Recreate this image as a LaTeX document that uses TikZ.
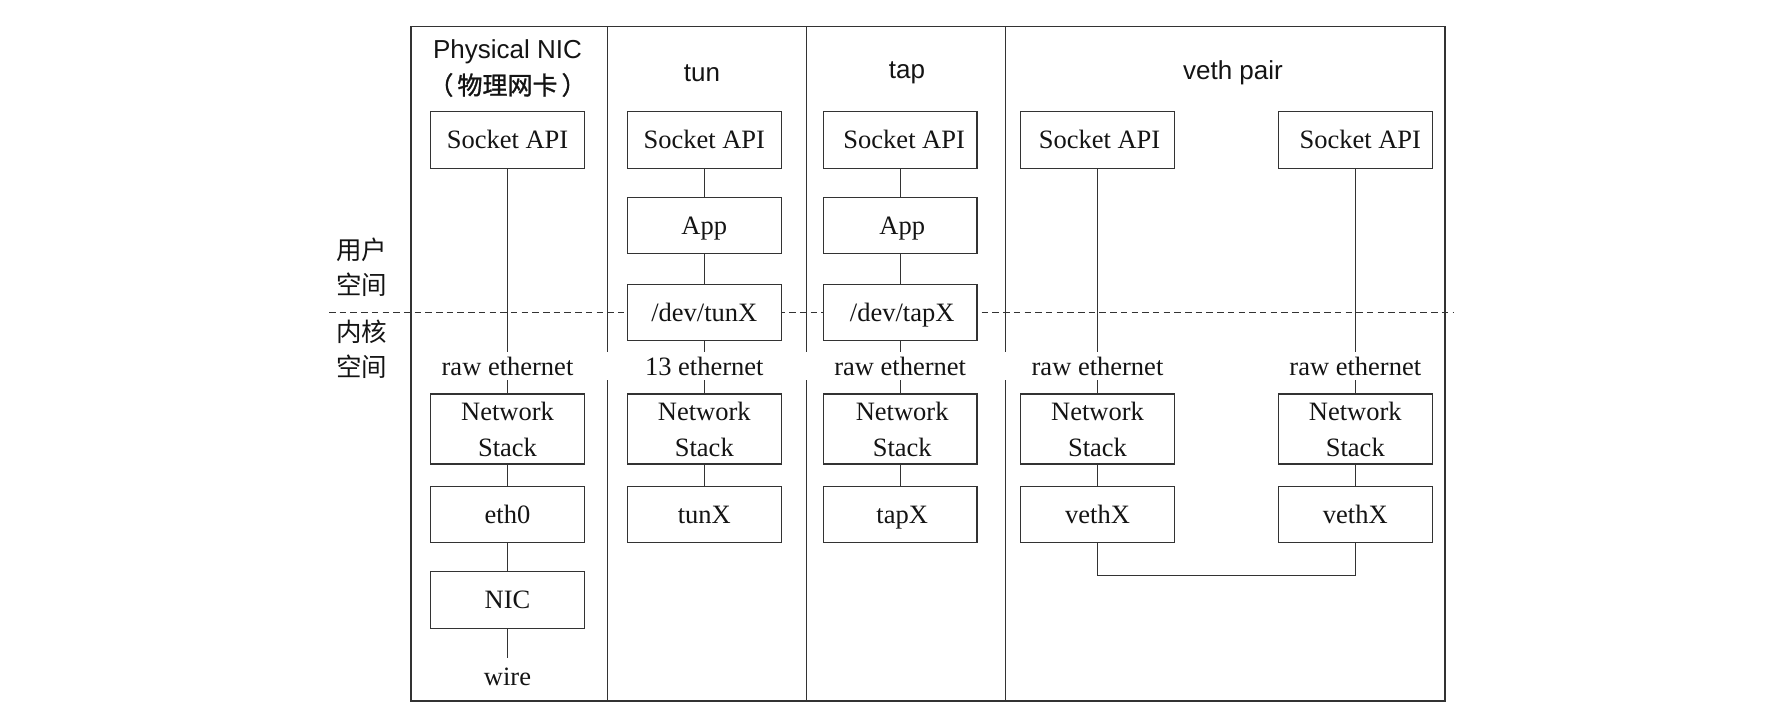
\documentclass[tikz,border=0pt]{standalone}
\usepackage{fontspec}
\setmainfont{Liberation Serif}
\setsansfont{Liberation Sans}
\newfontfamily\cjk{Noto Sans CJK SC}
\newfontfamily\cjkb[FakeBold=1.2]{Noto Sans CJK SC}
\begin{document}
\begin{tikzpicture}[x=1pt,y=-1pt,
  ln/.style={draw=black!80, line width=1.1pt},
  box/.style={ln, fill=white, minimum width=153.6pt, minimum height=56.8pt, inner sep=0pt,
    text height=17.5pt, text depth=0pt, text=black!92, font=\fontsize{26.5}{36}\selectfont},
  tallbox/.style={box, minimum height=70pt, align=center, text height=, text depth=},
  lbl/.style={inner sep=0pt, minimum height=28pt, text=black!92, font=\fontsize{26.5}{36}\selectfont},
  ttl/.style={inner sep=0pt, text=black!92, font=\sffamily\fontsize{26}{30}\selectfont},
  cjklbl/.style={inner sep=0pt, align=center, text=black!92, font=\cjk\fontsize{25.5}{35}\selectfont}
]
\useasboundingbox (0,0) rectangle (1786,718);

% frame and column dividers
\draw[ln] (411,26.7) rectangle (1445,701);
\foreach \xx in {607.7,806.7,1005.5}{
  \draw[ln] (\xx,26.7) -- (\xx,352);
  \draw[ln] (\xx,380) -- (\xx,701);
}

% user/kernel boundary
\draw[ln, line width=1pt, dash pattern=on 6.5pt off 4.2pt] (329,312.7) -- (1454,312.7);

% side labels
\node[cjklbl] (user) at (361.5,267.5) {用户\\空间};
\node[cjklbl] (kern) at (361.5,349.5) {内核\\空间};

% titles
\node[ttl] (t1) at (507.5,52) {Physical NIC};
\node[inner sep=0pt, text=black!92, font=\cjkb\fontsize{25}{30}\selectfont] (t1b) at (507.5,85) {（\hspace{4pt}物理网卡\hspace{4pt}）};
\node[ttl] (t2) at (702,73) {tun};
\node[ttl] (t3) at (907,73) {tap};
\node[ttl] (t4) at (1233,73) {veth pair};

% column 1: physical NIC
\node[box] (s1) at (507.5,140) {Socket API};
\node[lbl] (l1) at (507.5,366) {raw ethernet};
\node[tallbox] (n1) at (507.5,429) {Network\\Stack};
\node[box] (e1) at (507.5,514.5) {eth0};
\node[box] (nic) at (507.5,600.2) {NIC};
\node[lbl, minimum height=38pt] (wire) at (507.5,677) {wire};
\draw[ln] (s1) -- (l1);
\draw[ln] (l1) -- (n1);
\draw[ln] (n1) -- (e1);
\draw[ln] (e1) -- (nic);
\draw[ln] (nic) -- (wire);

% column 2: tun
\node[box] (s2) at (704.3,140) {Socket API};
\node[box] (a2) at (704.3,225.5) {App};
\node[box] (d2) at (704.3,312.5) {/dev/tunX};
\node[lbl] (l2) at (704.3,366) {13 ethernet};
\node[tallbox] (n2) at (704.3,429) {Network\\Stack};
\node[box] (e2) at (704.3,514.5) {tunX};
\draw[ln] (s2) -- (a2);
\draw[ln] (a2) -- (d2);
\draw[ln] (d2) -- (l2);
\draw[ln] (l2) -- (n2);
\draw[ln] (n2) -- (e2);

% column 3: tap
\node[box] (s3) at (900.2,140) {\hspace*{8pt}Socket API};
\node[box] (a3) at (900.2,225.5) {\hspace*{4pt}App};
\node[box] (d3) at (900.2,312.5) {\hspace*{4pt}/dev/tapX};
\node[lbl] (l3) at (900.2,366) {raw ethernet};
\node[tallbox] (n3) at (900.2,429) {\hspace*{4pt}Network\\\hspace*{4pt}Stack};
\node[box] (e3) at (900.2,514.5) {\hspace*{4pt}tapX};
\draw[ln] (s3) -- (a3);
\draw[ln] (a3) -- (d3);
\draw[ln] (d3) -- (l3);
\draw[ln] (l3) -- (n3);
\draw[ln] (n3) -- (e3);

% column 4: veth pair
\node[box] (s4) at (1097.5,140) {\hspace*{4pt}Socket API};
\node[lbl] (l4) at (1097.5,366) {raw ethernet};
\node[tallbox] (n4) at (1097.5,429) {Network\\Stack};
\node[box] (e4) at (1097.5,514.5) {vethX};
\draw[ln] (s4) -- (l4);
\draw[ln] (l4) -- (n4);
\draw[ln] (n4) -- (e4);

\node[box] (s5) at (1355.3,140) {\hspace*{10pt}Socket API};
\node[lbl] (l5) at (1355.3,366) {raw ethernet};
\node[tallbox] (n5) at (1355.3,429) {Network\\Stack};
\node[box] (e5) at (1355.3,514.5) {vethX};
\draw[ln] (s5) -- (l5);
\draw[ln] (l5) -- (n5);
\draw[ln] (n5) -- (e5);

\coordinate (vlink) at (1226,575.7);
\draw[ln] (e4.south) |- (vlink) -| (e5.south);
\end{tikzpicture}
\end{document}
